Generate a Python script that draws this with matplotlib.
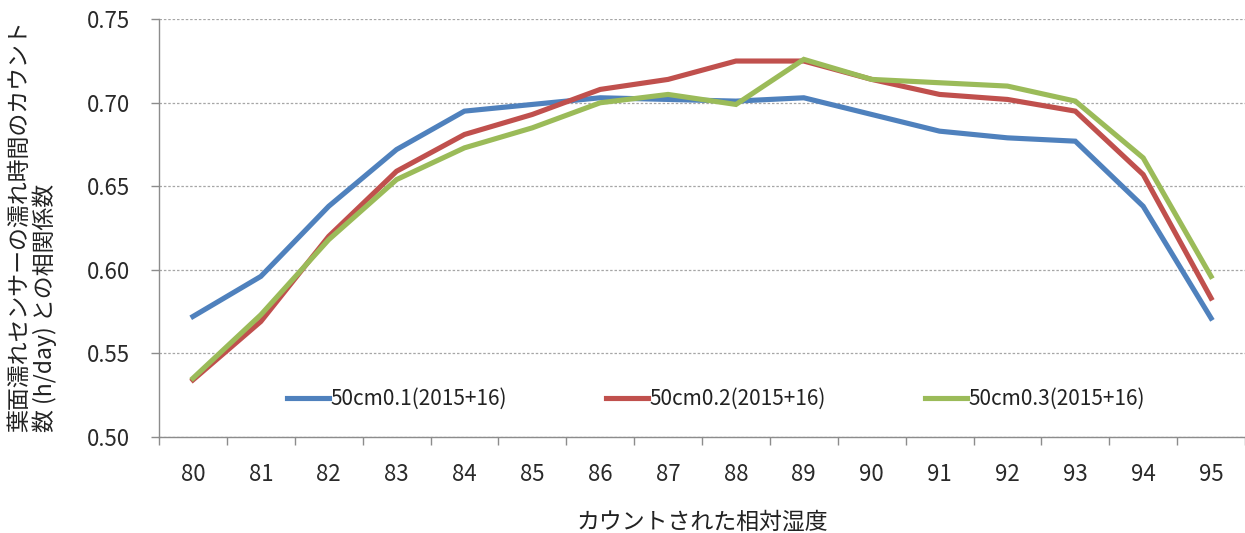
import numpy as np
import matplotlib
matplotlib.use('Agg')
import matplotlib.pyplot as plt
from matplotlib.ticker import FixedLocator, NullFormatter

plt.rcParams['font.family'] = ['Noto Sans CJK JP', 'DejaVu Sans']

# カウントされた相対湿度と相関係数
humidity = [80, 81, 82, 83, 84, 85, 86, 87, 88, 89, 90, 91, 92, 93, 94, 95]
r_01 = [0.572, 0.596, 0.638, 0.672, 0.695, 0.699, 0.703, 0.702, 0.701, 0.703,
        0.693, 0.683, 0.679, 0.677, 0.638, 0.571]
r_02 = [0.534, 0.569, 0.620, 0.659, 0.681, 0.693, 0.708, 0.714, 0.725, 0.725,
        0.714, 0.705, 0.702, 0.695, 0.657, 0.583]
r_03 = [0.535, 0.573, 0.618, 0.654, 0.673, 0.685, 0.700, 0.705, 0.699, 0.726,
        0.714, 0.712, 0.710, 0.701, 0.667, 0.596]
labels = ['50cm0.1(2015+16)', '50cm0.2(2015+16)', '50cm0.3(2015+16)']
colors = ['#4F81BD', '#C0504D', '#9BBB59']
yticks = [0.50, 0.55, 0.60, 0.65, 0.70, 0.75]

fig = plt.figure(figsize=(12.45, 5.33), dpi=100)
ax = fig.add_axes([159 / 1245, 1 - 436.7 / 533, 1 - 159 / 1245, (436.7 - 19.3) / 533])

for ys, lab, c in zip([r_01, r_02, r_03], labels, colors):
    ax.plot(humidity, ys, color=c, lw=3.7, label=lab, solid_joinstyle='miter')

ax.set_xlim(79.5, 95.5)
ax.set_ylim(0.50, 0.75)
ax.set_yticks(yticks)
ax.set_yticklabels(['%.2f' % v for v in yticks])
ax.set_xticks(humidity)
ax.set_xticklabels([str(h) for h in humidity])
ax.xaxis.set_minor_locator(FixedLocator(np.arange(79.5, 96, 1)))
ax.xaxis.set_minor_formatter(NullFormatter())

ax.grid(axis='y', color='#a6a6a6', linestyle=(0, (2, 1.5)), linewidth=0.9)
ax.set_axisbelow(True)
for s in ['top', 'right']:
    ax.spines[s].set_visible(False)
for s in ['left', 'bottom']:
    ax.spines[s].set_color('#8c8c8c')
    ax.spines[s].set_linewidth(1.0)

ax.tick_params(axis='y', length=6, width=1, color='#8c8c8c', pad=15,
               labelsize=16, labelcolor='#2a2a2a')
ax.tick_params(axis='x', which='major', length=0, pad=19,
               labelsize=16, labelcolor='#2a2a2a')
ax.tick_params(axis='x', which='minor', length=6, width=1, color='#8c8c8c')

ax.legend(loc='center', bbox_to_anchor=(0.513, 0.09), ncol=3, frameon=False,
          fontsize=15, handlelength=2.0, handletextpad=0.1, columnspacing=4.75,
          labelcolor='#222222')

ax.set_xlabel('カウントされた相対湿度', fontsize=16.5, color='#222222', labelpad=18)
fig.text(33 / 1245, 1 - 226 / 533,
         '葉面濡れセンサーの濡れ時間のカウント\n数 (h/day) との相関係数',
         rotation=90, ha='center', va='center', multialignment='left',
         fontsize=16.5, linespacing=1.05, color='#222222')

fig.savefig('out.png', dpi=100)
